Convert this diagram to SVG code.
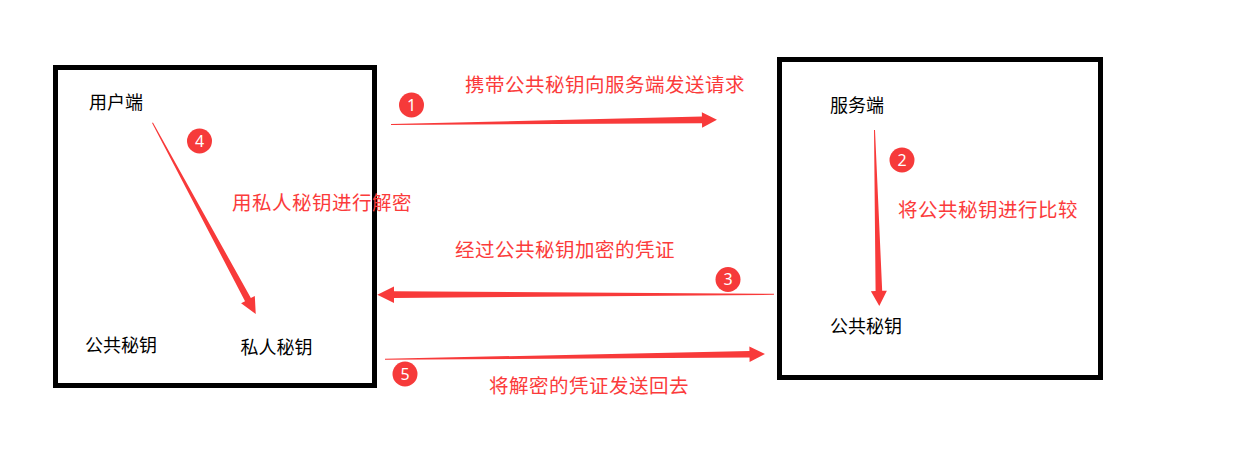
<svg xmlns="http://www.w3.org/2000/svg" width="1254" height="460" viewBox="0 0 1254 460">
  <style>
    .box { fill: none; stroke: #000; stroke-width: 5; }
    .lbl { font-family: "Noto Sans CJK SC", "Noto Sans", sans-serif; font-size: 18px; fill: #000; }
    .note { font-family: "Noto Sans CJK SC", "Noto Sans", sans-serif; font-size: 19.5px; letter-spacing: 0.5px; fill: #fb3b3b; }
    .badge circle { fill: #f63a3a; }
    .badge text { font-family: "Noto Sans", "Liberation Sans", sans-serif; font-size: 16px; fill: #fff; text-anchor: middle; }
    .arrow { fill: #f83a3a; }
  </style>
  <rect width="1254" height="460" fill="#fff"/>

  <g id="client">
    <rect class="box" x="55.5" y="67.5" width="319" height="318"/>
    <text class="lbl" x="89" y="109">用户端</text>
    <text class="lbl" x="85" y="351.5">公共秘钥</text>
    <text class="lbl" x="240.5" y="353.5">私人秘钥</text>
  </g>

  <g id="server">
    <rect class="box" x="779.5" y="59.5" width="321" height="318"/>
    <text class="lbl" x="830" y="112">服务端</text>
    <text class="lbl" x="830" y="332.5">公共秘钥</text>
  </g>

  <g id="connectors">
    <polygon class="arrow" transform="translate(391,124.5) rotate(-0.843)" points="0,-0.5 311,-3.3 311,-7.8 326,0 311,7.8 311,3.3 0,0.5"/>
    <polygon class="arrow" transform="translate(874.5,130) rotate(88.44)" points="0,-0.5 161,-3.3 161,-8 176,0 161,8 161,3.3 0,0.5"/>
    <polygon class="arrow" transform="translate(774,294.3) rotate(179.94)" points="0,-0.5 380,-3.4 380,-8.3 396.7,0 380,8.3 380,3.4 0,0.5"/>
    <polygon class="arrow" transform="translate(152.5,122.7) rotate(61.65)" points="0,-0.5 201,-3.3 201,-7.8 217.4,0 201,7.8 201,3.3 0,0.5"/>
    <polygon class="arrow" transform="translate(385,359.3) rotate(-0.799)" points="0,-0.5 364.5,-3.3 364.5,-7.8 380,0 364.5,7.8 364.5,3.3 0,0.5"/>
  </g>

  <g id="step1">
    <g class="badge"><circle cx="411.5" cy="105" r="12.5"/><text x="411.5" y="110.5">1</text></g>
    <text class="note" x="465" y="92">携带公共秘钥向服务端发送请求</text>
  </g>
  <g id="step2">
    <g class="badge"><circle cx="902" cy="160" r="12.5"/><text x="902" y="165.5">2</text></g>
    <text class="note" x="898" y="217">将公共秘钥进行比较</text>
  </g>
  <g id="step3">
    <g class="badge"><circle cx="728" cy="279.5" r="12.5"/><text x="728" y="285">3</text></g>
    <text class="note" x="455" y="257">经过公共秘钥加密的凭证</text>
  </g>
  <g id="step4">
    <g class="badge"><circle cx="199.5" cy="141" r="12.5"/><text x="199.5" y="146.5">4</text></g>
    <text class="note" x="232" y="210">用私人秘钥进行解密</text>
  </g>
  <g id="step5">
    <g class="badge"><circle cx="405" cy="374" r="12.5"/><text x="405" y="379.5">5</text></g>
    <text class="note" x="489" y="393">将解密的凭证发送回去</text>
  </g>
</svg>
